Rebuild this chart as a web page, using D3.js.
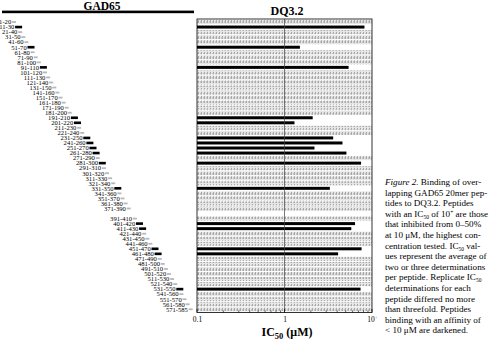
<!DOCTYPE html>
<html><head><meta charset="utf-8">
<script src="https://cdn.jsdelivr.net/npm/d3@7"></script>
<style>
body{margin:0;background:#fff;}
svg{display:block;font-family:"Liberation Serif","Times New Roman",serif;}
</style></head>
<body><svg id="c" width="500" height="341"></svg>
<script>
// Peptide labels (gap row for the missing 381-400 peptide is "")
const peptides = ["1-20","11-30","21-40","31-50","41-60","51-70","61-80","71-90","81-100","91-110",
 "101-120","111-130","121-140","131-150","141-160","151-170","161-180","171-190","181-200","191-210",
 "201-220","211-230","221-240","231-250","241-260","251-270","261-280","271-290","281-300","291-310",
 "301-320","311-330","321-340","331-350","341-360","351-370","361-380","371-390","",
 "391-410","401-420","411-430","421-440","431-450","441-460","451-470","461-480","471-490","481-500",
 "491-510","501-520","511-530","521-540","531-550","541-560","551-570","561-580","571-585"];
// IC50 (µM); 10 means "10+" (no binding up to highest concentration); null = no peptide
const ic50 = [10,8.2,10,10,10,1.5,10,10,10,5.4,
 10,10,10,10,10,10,10,10,10,2.1,
 1.3,10,10,3.6,4.6,2.2,5.1,10,7.5,10,
 10,10,10,3.3,10,10,10,10,null,
 10,6.4,5.8,10,10,10,7.6,4.1,10,10,
 10,10,10,10,7.4,10,10,10,10];
const tickValues = [0.1,1,10];
const tickLabels = ["0.1","1","10"];
const captionLines = [
 [["i","Figure 2."],["n","  Binding of over-"]],
 [["n","lapping GAD65 20mer pep-"]],
 [["n","tides to DQ3.2. Peptides"]],
 [["n","with an IC"],["sub","50"],["n"," of 10"],["sup","+"],["n"," are those"]],
 [["n","that inhibited from 0–50%"]],
 [["n","at 10 μM, the highest con-"]],
 [["n","centration tested. IC"],["sub","50"],["n"," val-"]],
 [["n","ues represent the average of"]],
 [["n","two or three determinations"]],
 [["n","per peptide. Replicate IC"],["sub","50"]],
 [["n","determinations for each"]],
 [["n","peptide differed no more"]],
 [["n","than threefold. Peptides"]],
 [["n","binding with an affinity of"]],
 [["n","< 10 μM are darkened."]]
];

const svg = d3.select("#c");
const defs = svg.append("defs");
const pat = defs.append("pattern").attr("id","hatch").attr("patternUnits","userSpaceOnUse")
  .attr("width",3).attr("height",4);
pat.append("rect").attr("width",3).attr("height",4).attr("fill","#e6e6e6");
pat.append("rect").attr("x",0).attr("width",1).attr("height",3).attr("fill","#a8a8a8");
pat.append("rect").attr("x",2).attr("y",1).attr("width",1).attr("height",2).attr("fill","#c6c6c6");

const idx = d3.range(peptides.length);
const y = d3.scaleBand().domain(idx).range([19.5, 311.8]).padding(0);
const x = d3.scaleLog().domain([0.1,10]).range([197,372]);
const stair = d3.scaleLinear().domain([0, peptides.length-1]).range([12, 188.7]);

// ---- Left: GAD65 staircase
svg.append("text").attr("x",102).attr("y",10).attr("text-anchor","middle")
  .attr("font-weight","bold").attr("font-size",11.5).text("GAD65");
svg.append("rect").attr("x",2).attr("y",10.6).attr("width",192).attr("height",2.6).attr("fill","#000");

const rows = idx.filter(i => ic50[i] !== null);
const g = svg.append("g");
g.selectAll("text.lab").data(rows).join("text").attr("class","lab")
  .attr("x", i => stair(i) - 0.8)
  .attr("y", i => y(i) + y.bandwidth()/2 + 2.3)
  .attr("text-anchor","end").attr("font-size",6.6).text(i => peptides[i]);
g.selectAll("rect.mk").data(rows).join("rect").attr("class","mk")
  .attr("x", i => stair(i))
  .attr("y", i => y(i) + y.bandwidth()/2 - (ic50[i] < 10 ? 1.3 : 0.9))
  .attr("width", i => ic50[i] < 10 ? 7 : 4)
  .attr("height", i => ic50[i] < 10 ? 2.6 : 1.8)
  .attr("fill", i => ic50[i] < 10 ? "#000" : "#b8b8b8");

// ---- Right: DQ3.2 bars
svg.append("text").attr("x",287).attr("y",15).attr("text-anchor","middle")
  .attr("font-weight","bold").attr("font-size",12).text("DQ3.2");

const p = svg.append("g");
p.selectAll("rect.hb").data(rows.filter(i => ic50[i] >= 10)).join("rect").attr("class","hb")
  .attr("x", x(0.1)).attr("width", x(10) - x(0.1))
  .attr("y", i => y(i) + 0.5).attr("height", y.bandwidth() - 1)
  .attr("fill","url(#hatch)");
p.selectAll("rect.bb").data(rows.filter(i => ic50[i] < 10)).join("rect").attr("class","bb")
  .attr("x", x(0.1)).attr("width", i => x(ic50[i]) - x(0.1))
  .attr("y", i => y(i) + y.bandwidth()/2 - 1.5).attr("height", 3)
  .attr("fill","#000");

// vertical line at 1
p.append("line").attr("x1",x(1)).attr("x2",x(1)).attr("y1",19).attr("y2",312.5)
  .attr("stroke","#444").attr("stroke-width",0.7);
// frame
p.append("rect").attr("x",x(0.1)).attr("y",19).attr("width",x(10)-x(0.1)).attr("height",293.5)
  .attr("fill","none").attr("stroke","#000").attr("stroke-width",0.8);

// axis
const axis = d3.axisBottom(x).tickValues(tickValues).tickSize(0).tickPadding(4)
  .tickFormat((d,i) => tickLabels[i]);
const ag = svg.append("g").attr("transform","translate(0,312.5)").call(axis);
ag.select(".domain").remove();
ag.selectAll("text").attr("font-family","Liberation Serif").attr("font-size",7.5).attr("fill","#000");
ag.selectAll(".tick text").filter(d => d === 10).append("tspan")
  .attr("dy",-3).attr("font-size",5).text("+");
const minor = [];
[0.1,1].forEach(b => d3.range(2,10).forEach(k => minor.push(b*k)));
svg.append("g").selectAll("line").data(minor).join("line")
  .attr("x1",d=>x(d)).attr("x2",d=>x(d)).attr("y1",312.5).attr("y2",310.5)
  .attr("stroke","#000").attr("stroke-width",0.6);
svg.append("g").selectAll("line").data(tickValues).join("line")
  .attr("x1",d=>x(d)).attr("x2",d=>x(d)).attr("y1",312.5).attr("y2",309)
  .attr("stroke","#000").attr("stroke-width",0.7);

const xl = svg.append("text").attr("x",287).attr("y",336).attr("text-anchor","middle")
  .attr("font-weight","bold").attr("font-size",12);
xl.append("tspan").text("IC");
xl.append("tspan").attr("dy",3).attr("font-size",8.5).text("50");
xl.append("tspan").attr("dy",-3).text(" (μM)");

// ---- caption
const cap = svg.append("g").attr("font-size",9.1);
captionLines.forEach((parts,li) => {
  const t = cap.append("text").attr("x",385).attr("y",185 + li*10.6);
  let shift = 0;
  parts.forEach(([kind,str]) => {
    const s = t.append("tspan").text(str);
    if (kind === "i") s.attr("font-style","italic");
    if (kind === "sub") { s.attr("font-size",5.5).attr("dy", 2 - shift); shift = 2; }
    else if (kind === "sup") { s.attr("font-size",5.5).attr("dy", -3 - shift); shift = -3; }
    else if (shift !== 0) { s.attr("dy", -shift); shift = 0; }
  });
});
</script></body></html>
